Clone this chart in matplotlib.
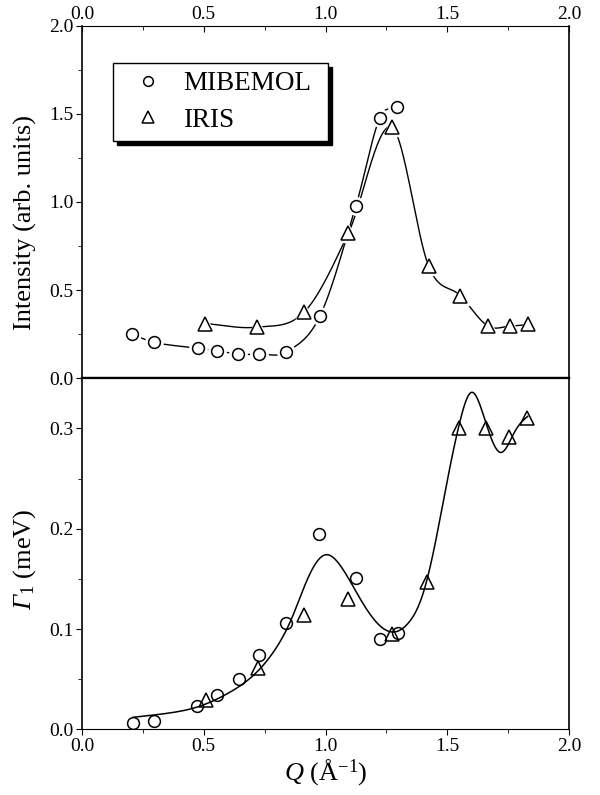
import numpy as np
import matplotlib
matplotlib.use("Agg")
import matplotlib.pyplot as plt
from matplotlib.lines import Line2D
from matplotlib.ticker import MultipleLocator, FormatStrFormatter

plt.rcParams['font.family'] = ['Liberation Serif', 'DejaVu Serif']
plt.rcParams['mathtext.fontset'] = 'custom'
plt.rcParams['mathtext.rm'] = 'Liberation Serif'
plt.rcParams['mathtext.it'] = 'Liberation Serif:italic'
plt.rcParams['mathtext.bf'] = 'Liberation Serif:italic'

# ---- Data: intensity (top panel) ----
mib_q_int = [0.207, 0.294, 0.476, 0.556, 0.641, 0.726, 0.839, 0.977, 1.125, 1.222, 1.292]
mib_int = [0.25, 0.204, 0.17, 0.156, 0.137, 0.137, 0.149, 0.353, 0.979, 1.475, 1.536]
iris_q_int = [0.507, 0.719, 0.913, 1.094, 1.271, 1.424, 1.554, 1.667, 1.759, 1.833]
iris_int = [0.31, 0.29, 0.376, 0.824, 1.425, 0.634, 0.468, 0.296, 0.296, 0.305]

# ---- Data: linewidth Gamma_1 (bottom panel) ----
mib_q_g = [0.209, 0.294, 0.473, 0.554, 0.643, 0.728, 0.837, 0.975, 1.124, 1.223, 1.298]
mib_g = [0.0063, 0.008, 0.023, 0.034, 0.050, 0.074, 0.106, 0.195, 0.151, 0.090, 0.096]
iris_q_g = [0.509, 0.721, 0.912, 1.093, 1.272, 1.418, 1.548, 1.661, 1.753, 1.826]
iris_g = [0.029, 0.061, 0.114, 0.130, 0.095, 0.147, 0.300, 0.300, 0.291, 0.310]

# fit curve knots
fit_q = [0.21, 0.35, 0.47, 0.60, 0.70, 0.78, 0.86, 0.93, 1.00, 1.07, 1.15, 1.22,
         1.28, 1.34, 1.40, 1.45, 1.50, 1.55, 1.60, 1.65, 1.72, 1.78, 1.83]
fit_g = [0.012, 0.016, 0.022, 0.036, 0.053, 0.075, 0.110, 0.152, 0.174, 0.160, 0.127, 0.104,
         0.097, 0.106, 0.135, 0.185, 0.248, 0.305, 0.336, 0.312, 0.276, 0.298, 0.312]

x_ticks = [0.0, 0.5, 1.0, 1.5, 2.0]


def hermite(x, y, d, xs):
    x = np.asarray(x, float); y = np.asarray(y, float)
    h = np.diff(x); n = len(x)
    xs = np.asarray(xs, float)
    idx = np.clip(np.searchsorted(x, xs) - 1, 0, n - 2)
    t = (xs - x[idx]) / h[idx]
    h00 = 2 * t**3 - 3 * t**2 + 1
    h10 = t**3 - 2 * t**2 + t
    h01 = -2 * t**3 + 3 * t**2
    h11 = t**3 - t**2
    return h00 * y[idx] + h10 * h[idx] * d[idx] + h01 * y[idx + 1] + h11 * h[idx] * d[idx + 1]


def catmull(x, y, xs):
    x = np.asarray(x, float); y = np.asarray(y, float)
    n = len(x)
    d = np.zeros(n)
    d[1:-1] = (y[2:] - y[:-2]) / (x[2:] - x[:-2])
    d[0] = (y[1] - y[0]) / (x[1] - x[0])
    d[-1] = (y[-1] - y[-2]) / (x[-1] - x[-2])
    return hermite(x, y, d, xs)


def natural_spline(x, y, xs):
    x = np.asarray(x, float); y = np.asarray(y, float)
    n = len(x); h = np.diff(x)
    A = np.zeros((n, n)); b = np.zeros(n)
    A[0, 0] = 1; A[-1, -1] = 1
    for i in range(1, n - 1):
        A[i, i - 1] = h[i - 1]; A[i, i] = 2 * (h[i - 1] + h[i]); A[i, i + 1] = h[i]
        b[i] = 6 * ((y[i + 1] - y[i]) / h[i] - (y[i] - y[i - 1]) / h[i - 1])
    M = np.linalg.solve(A, b)
    xs = np.asarray(xs, float)
    idx = np.clip(np.searchsorted(x, xs) - 1, 0, n - 2)
    xi, xj, hi = x[idx], x[idx + 1], h[idx]
    return (M[idx] * (xj - xs)**3 / (6 * hi) + M[idx + 1] * (xs - xi)**3 / (6 * hi)
            + (y[idx] / hi - M[idx] * hi / 6) * (xj - xs)
            + (y[idx + 1] / hi - M[idx + 1] * hi / 6) * (xs - xi))


fig = plt.figure(figsize=(6.0, 7.95), dpi=100)
L, W = 0.1367, 0.8117
ax1 = fig.add_axes([L, 0.5242, W, 0.4435])
ax2 = fig.add_axes([L, 0.0826, W, 0.4416])

ms_c = 8.5
ms_t = 9.5
tick_fs = 14
lab_fs = 19

# ---- top panel ----
for q, v, m, ms in [(mib_q_int, mib_int, 'o', ms_c), (iris_q_int, iris_int, '^', ms_t)]:
    xs = np.linspace(q[0], q[-1], 400)
    ax1.plot(xs, catmull(q, v, xs), color='black', lw=1.0, zorder=1)
    ax1.plot(q, v, ls='none', marker=m, ms=ms + 4, mfc='white', mec='white', zorder=2)
    ax1.plot(q, v, ls='none', marker=m, ms=ms, mfc='white', mec='black', mew=1.1, zorder=3)

ax1.set_xlim(0, 2.0)
ax1.set_ylim(0, 2.0)
ax1.xaxis.tick_top()
ax1.set_xticks(x_ticks)
ax1.xaxis.set_minor_locator(MultipleLocator(0.25))
ax1.xaxis.set_major_formatter(FormatStrFormatter('%.1f'))
ax1.set_yticks([0.0, 0.5, 1.0, 1.5, 2.0])
ax1.yaxis.set_minor_locator(MultipleLocator(0.25))
ax1.yaxis.set_major_formatter(FormatStrFormatter('%.1f'))
ax1.tick_params(axis='x', which='both', direction='in', top=True, bottom=False,
                labeltop=True, labelbottom=False, labelsize=tick_fs, pad=2)
ax1.tick_params(axis='x', which='major', length=4)
ax1.tick_params(axis='x', which='minor', length=3)
ax1.tick_params(axis='y', which='both', direction='out', left=True, right=False, labelsize=tick_fs, pad=2)
ax1.tick_params(axis='y', which='major', length=4)
ax1.tick_params(axis='y', which='minor', length=3)
ax1.set_ylabel('Intensity (arb. units)', fontsize=lab_fs)
ax1.yaxis.set_label_coords(-0.092, 0.443)
ax1.spines['bottom'].set_linewidth(1.6)

handles = [Line2D([], [], ls='none', marker='o', ms=7, mfc='white', mec='black', mew=1.1),
           Line2D([], [], ls='none', marker='^', ms=8, mfc='white', mec='black', mew=1.1)]
leg = ax1.legend(handles, ['MIBEMOL', 'IRIS'], loc='upper left',
                 bbox_to_anchor=(0.0637, 0.667, 0.441, 0.227), mode='expand',
                 fontsize=19.5, frameon=True, fancybox=False,
                 shadow={'color': 'black', 'alpha': 1.0, 'ox': 3, 'oy': -3},
                 borderpad=0.3, handletextpad=0.3, labelspacing=0.42, borderaxespad=0,
                 handlelength=2.0)
leg.get_frame().set_edgecolor('black')
leg.get_frame().set_linewidth(1.0)

# ---- bottom panel ----
xs = np.linspace(fit_q[0], fit_q[-1], 600)
ax2.plot(xs, natural_spline(fit_q, fit_g, xs), color='black', lw=1.1, zorder=1)
ax2.plot(mib_q_g, mib_g, ls='none', marker='o', ms=ms_c, mfc='none', mec='black', mew=1.1, zorder=3)
ax2.plot(iris_q_g, iris_g, ls='none', marker='^', ms=ms_t, mfc='none', mec='black', mew=1.1, zorder=3)
ax2.set_xlim(0, 2.0)
ax2.set_ylim(0, 0.35)
ax2.set_xticks(x_ticks)
ax2.xaxis.set_minor_locator(MultipleLocator(0.25))
ax2.xaxis.set_major_formatter(FormatStrFormatter('%.1f'))
ax2.set_yticks([0.0, 0.1, 0.2, 0.3])
ax2.yaxis.set_minor_locator(MultipleLocator(0.05))
ax2.yaxis.set_major_formatter(FormatStrFormatter('%.1f'))
ax2.tick_params(axis='both', which='both', direction='out', top=False, right=False,
                labelsize=tick_fs, pad=2)
ax2.tick_params(axis='both', which='major', length=4)
ax2.tick_params(axis='both', which='minor', length=3)
ax2.spines['top'].set_linewidth(1.6)
ax2.set_ylabel(r'$\mathbf{Γ}_1$ (meV)', fontsize=lab_fs)
ax2.yaxis.set_label_coords(-0.09, 0.485)
ax2.set_xlabel(r'$Q$ (Å$^{-1}$)', fontsize=lab_fs, labelpad=2)

for ax in (ax1, ax2):
    for s in ('left', 'right'):
        ax.spines[s].set_linewidth(1.2)

fig.savefig('out.png', dpi=100)
